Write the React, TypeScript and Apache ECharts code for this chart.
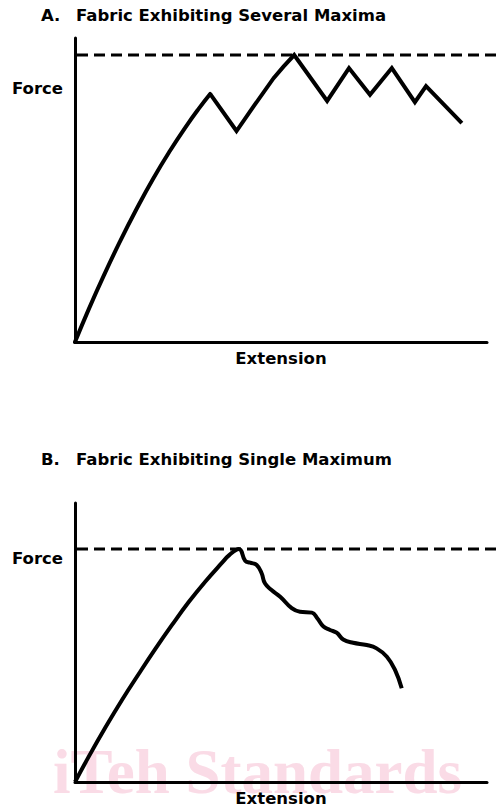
import React, { useEffect, useRef } from "react";
import * as echarts from "echarts";

// Panel A: fabric exhibiting several maxima (x: extension %, y: force %)
const riseAX = [0, 3.5, 6.9, 10.9, 15.0, 19.0, 23.1, 27.1, 30.0, 32.8];
const riseAY = [0, 11.3, 21.6, 33.0, 43.9, 53.8, 63.0, 71.2, 76.7, 81.6];
const zigAX = [32.8, 39.2, 43.3, 48.2, 50.6, 53.2, 61.2, 66.5, 71.6, 76.9, 82.5, 85.2, 93.9];
const zigAY = [81.6, 69.4, 77.4, 86.8, 90.6, 94.4, 79.3, 90.1, 81.3, 90.1, 78.9, 84.2, 72.0];
const maxForceA = 94.4;

// Panel B: fabric exhibiting single maximum
const curveBX = [0, 3.3, 7.4, 11.4, 15.5, 19.5, 23.5, 27.6, 31.6, 35.7, 37.5, 39.8, 41.3, 42.5, 44.1, 45.3, 46.1, 47.7, 49.8, 52.6, 54.6, 57.5, 58.8, 60.3, 61.9, 63.5, 65.1, 67.5, 70.8, 73.2, 75.7, 77.7, 79.3];
const curveBY = [0, 9.0, 19.6, 29.4, 38.8, 47.7, 56.2, 64.5, 71.8, 78.6, 81.4, 83.5, 79.3, 78.6, 77.8, 74.8, 71.2, 68.8, 66.4, 62.3, 61.0, 60.7, 58.7, 55.7, 54.5, 53.5, 51.1, 49.9, 49.1, 47.9, 44.9, 40.1, 33.6];
const maxForceB = 83.5;

const titles = ["A.", "Fabric Exhibiting Several Maxima", "B.", "Fabric Exhibiting Single Maximum"];
const yLabel = "Force";
const xLabel = "Extension";
const watermark = "iTeh Standards";

const FONT = "DejaVu Sans";
const FS = 16.5;
const zip = (xs: number[], ys: number[]) => xs.map((x, i) => [x, ys[i]]);

export default function App() {
  const ref = useRef<HTMLDivElement>(null);
  useEffect(() => {
    if (!ref.current) return;
    const chart = echarts.init(ref.current, null, { renderer: "svg" });
    const axisX = (gridIndex: number) => ({
      type: "value",
      gridIndex,
      min: 0,
      max: 100,
      axisLine: { show: true, onZero: false, lineStyle: { color: "#000", width: 3 } },
      axisTick: { show: false },
      axisLabel: { show: false },
      splitLine: { show: false },
      name: xLabel,
      nameLocation: "middle",
      nameGap: 8,
      nameTextStyle: { fontFamily: FONT, fontWeight: "bold", fontSize: FS, color: "#000" },
    });
    const axisY = (gridIndex: number) => ({
      type: "value",
      gridIndex,
      min: 0,
      max: 100,
      axisLine: { show: true, onZero: false, lineStyle: { color: "#000", width: 3 } },
      axisTick: { show: false },
      axisLabel: { show: false },
      splitLine: { show: false },
    });
    const lineStyle = { color: "#000", width: 4, join: "miter" };
    chart.setOption({
      animation: false,
      backgroundColor: "#fff",
      grid: [
        { left: 75, top: 38, width: 412, height: 304 },
        { left: 75, top: 503, width: 412, height: 279 },
      ],
      xAxis: [axisX(0), axisX(1)],
      yAxis: [axisY(0), axisY(1)],
      series: [
        {
          type: "line", xAxisIndex: 0, yAxisIndex: 0, data: zip(riseAX, riseAY),
          smooth: 0.5, showSymbol: false, lineStyle: { ...lineStyle, cap: "round" }, z: 5,
        },
        {
          type: "line", xAxisIndex: 0, yAxisIndex: 0, data: zip(zigAX, zigAY),
          smooth: false, showSymbol: false, lineStyle, z: 5,
        },
        {
          type: "line", xAxisIndex: 1, yAxisIndex: 1, data: zip(curveBX, curveBY),
          smooth: 0.45, showSymbol: false, lineStyle, z: 5,
        },
      ],
    });
    const pA = chart.convertToPixel({ gridIndex: 0 }, [0, maxForceA]) as number[];
    const pB = chart.convertToPixel({ gridIndex: 1 }, [0, maxForceB]) as number[];
    const W = chart.getWidth();
    const txt = (text: string, x: number, y: number) => ({
      type: "text", x, y, z: 10,
      style: { text, fontFamily: FONT, fontWeight: "bold", fontSize: FS, fill: "#000", verticalAlign: "middle" },
    });
    const dash = (p: number[]) => ({
      type: "line", z: 3,
      shape: { x1: p[0] + 2, y1: p[1], x2: W, y2: p[1] },
      style: { stroke: "#000", lineWidth: 3, lineDash: [11, 6] },
    });
    chart.setOption({
      graphic: [
        {
          type: "text", x: 53, y: 772, z: 0,
          style: { text: watermark, fontFamily: "Liberation Serif", fontWeight: "bold", fontSize: 63, fill: "#fadbe6", verticalAlign: "middle" },
        },
        txt(titles[0], 41, 15),
        txt(titles[1], 76, 15),
        txt(titles[2], 41, 459),
        txt(titles[3], 76, 459),
        txt(yLabel, 12, 88),
        txt(yLabel, 12, 558),
        dash(pA),
        dash(pB),
      ],
    });
    return () => chart.dispose();
  }, []);
  return <div ref={ref} style={{ position: "fixed", left: 0, top: 0, width: 496, height: 810 }} />;
}
